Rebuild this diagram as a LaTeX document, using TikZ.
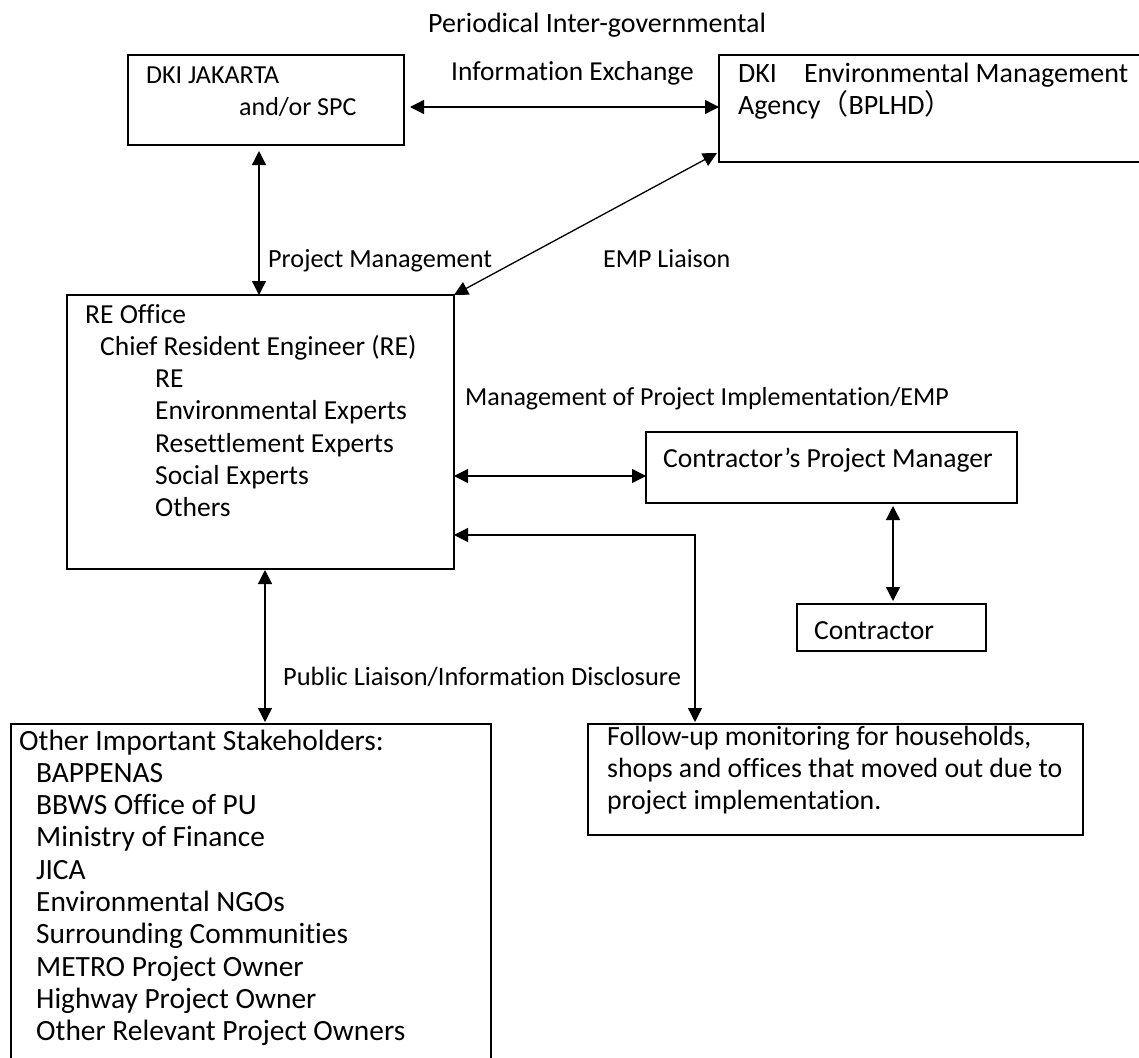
\documentclass[tikz,border=0pt]{standalone}
\usepackage{fontspec}
\setmainfont{Carlito}[Ligatures={NoCommon,NoContextual},Contextuals=NoAlternate]
\newfontfamily\cjk{Noto Sans CJK SC}
\usetikzlibrary{arrows.meta,calc}

\tikzset{
  box/.style={draw, line width=1.5pt, inner sep=0pt, outer sep=0pt, anchor=north west},
  txt/.style={anchor=base west, inner sep=0pt, font=\fontsize{#1}{32.3}\selectfont},
  txt/.default=26,
  blk/.style 2 args={txt=#1, text width=#2, align=flush left},
  dbl/.style={line width=1.3pt, {Triangle[length=14pt,width=14pt]}-{Triangle[length=14pt,width=14pt]}}
}

\begin{document}
\begin{tikzpicture}[x=1pt,y=-1pt]
        \useasboundingbox (0,0) rectangle (1139,1057);
        \clip (0,0) rectangle (1139,1057);
        % boxes
        \node[box, minimum width=276pt, minimum height=90pt] (dki) at (128,55) {};
        \node[box, minimum width=422pt, minimum height=107pt] (bplhd) at (719,55) {};
        \node[box, minimum width=387pt, minimum height=274pt] (re) at (67,295) {};
        \node[box, minimum width=371pt, minimum height=71pt] (cpm) at (646,432) {};
        \node[box, minimum width=189pt, minimum height=47pt] (con) at (797,604) {};
        \node[box, minimum width=480pt, minimum height=340pt] (stake) at (11,724) {};
        \node[box, minimum width=495pt, minimum height=111pt] (follow) at (588,724) {};
        % texts in the boxes
        \node[blk={26}{260pt}] (dkitxt) at ($(dki.north west)+(18,28)$) {DKI JAKARTA\\\hspace*{93pt}and/or SPC};
        \node[blk={28}{420pt}] (bplhdtxt) at ($(bplhd.north west)+(19,27)$) {DKI\hspace{27pt}Environmental Management\\Agency{\cjk （}BPLHD{\cjk ）}};
        \node[blk={27.5}{370pt}] (retxt) at ($(re.north west)+(18,28)$) {RE Office\\\hspace*{15pt}Chief Resident Engineer (RE)\\\hspace*{70pt}RE\\\hspace*{70pt}Environmental Experts\\\hspace*{70pt}Resettlement Experts\\\hspace*{70pt}Social Experts\\\hspace*{70pt}Others};
        \node[txt=27.6] (cpmtxt) at ($(cpm.north west)+(17,35)$) {Contractor’s Project Manager};
        \node[txt=27.6] (contxt) at ($(con.north west)+(17,35)$) {Contractor};
        \node[blk={29.4}{470pt}] (staketxt) at ($(stake.north west)+(8,26)$) {Other Important Stakeholders:\\\hspace*{17pt}BAPPENAS\\\hspace*{17pt}BBWS Office of PU\\\hspace*{17pt}Ministry of Finance\\\hspace*{17pt}JICA\\\hspace*{17pt}Environmental NGOs\\\hspace*{17pt}Surrounding Communities\\\hspace*{17pt}METRO Project Owner\\\hspace*{17pt}Highway Project Owner\\\hspace*{17pt}Other Relevant Project Owners};
        \node[blk={27.8}{480pt}] (followtxt) at ($(follow.north west)+(19,21)$) {Follow-up monitoring for households,\\shops and offices that moved out due to\\project implementation.};
        % connector labels
        \node[txt=28] (periodical) at (428,33) {Periodical Inter-governmental};
        \node[txt=27.4] (exchange) at (451,80) {Information Exchange};
        \node[txt=26.2] (projmgmt) at (268,267) {Project Management};
        \node[txt] (empliaison) at (603,267) {EMP Liaison};
        \node[txt] (implement) at (465,405) {Management of Project Implementation/EMP};
        \node[txt=26.4] (publiaison) at (283,685) {Public Liaison/Information Disclosure};
        % connectors
        \draw[dbl] ($(dki.east)+(6,7)$) -- ($(dki.east -| bplhd.west)+(0,7)$);
        \draw[dbl] ($(dki.south)+(-7,6)$) -- ($(dki.south |- re.north)+(-7,0)$);
        \draw[dbl] ($(bplhd.south west)+(-2,-9)$) -- (re.north east);
        \draw[dbl] ($(cpm.west)+(0,8.5)$) -- ($(cpm.west -| re.east)+(0,8.5)$);
        \draw[dbl] ($(con.north |- cpm.south)+(1.5,3)$) -- ($(con.north)+(1.5,-3)$);
        \draw[dbl] ($(re.south)+(4.5,1)$) -- ($(re.south |- stake.north)+(4.5,-2)$);
        \draw[dbl] ($(re.east)+(0,103)$) -| ($(follow.north west)+(107,-2)$);
\end{tikzpicture}
\end{document}
